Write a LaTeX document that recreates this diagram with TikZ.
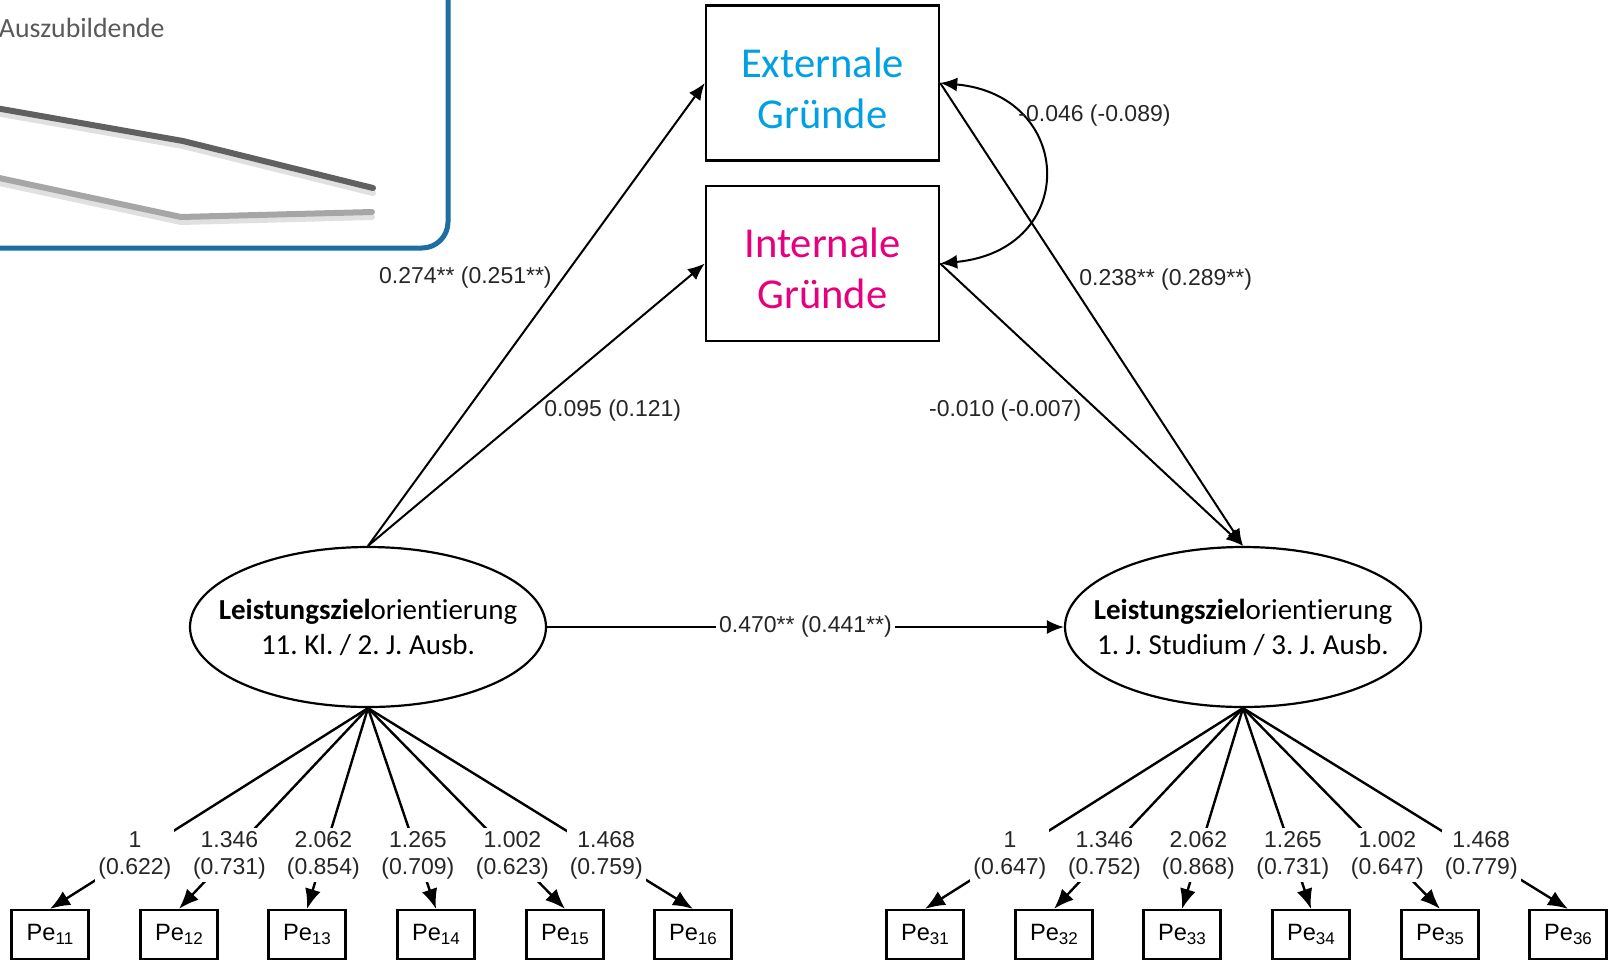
\documentclass[tikz,border=0pt]{standalone}
\usepackage{fontspec}
\setmainfont{Carlito}[Ligatures=NoCommon]
\newfontfamily\arialf{Liberation Sans}
\usetikzlibrary{arrows.meta,shapes.geometric}
\definecolor{framecol}{RGB}{28,110,165}
\definecolor{extblue}{RGB}{0,160,227}
\definecolor{intmag}{RGB}{230,0,126}
\definecolor{darkline}{RGB}{96,96,96}
\definecolor{lightline}{RGB}{166,166,166}
\definecolor{ausgray}{RGB}{89,89,89}
\newcommand\subx[1]{\raisebox{-0.35ex}{\fontsize{8.5}{9}\selectfont #1}}
\frenchspacing
\begin{document}
\begin{tikzpicture}[x=0.5pt,y=-0.5pt,
  reason/.style={draw=black, line width=1.2pt, minimum width=116.5pt, minimum height=77.5pt, inner sep=0pt},
  rtext/.style={inner sep=0pt, align=center, font=\fontsize{21.3}{25.5}\selectfont},
  latent/.style={draw=black, ellipse, line width=1.1pt, minimum width=178pt, minimum height=80pt, inner sep=0pt, align=center, font=\fontsize{14.5}{17.5}\selectfont},
  ind/.style={draw=black, line width=1.1pt, minimum width=38.5pt, minimum height=24.5pt, inner sep=0pt, font=\arialf\fontsize{11.8}{13}\selectfont},
  pathar/.style={line width=1pt, -{Latex[length=8.5pt,width=7pt]}},
  loadar/.style={line width=1.2pt, -{Latex[length=10pt,width=8pt]}},
  coef/.style={font=\arialf\fontsize{11.5}{13.5}\selectfont, inner sep=0pt, text=black!85},
  lload/.style={coef, fill=white, align=center, inner sep=1.5pt},
  trend/.style={line width=3pt, line cap=round, line join=round}
]
\useasboundingbox (0,0) rectangle (1610,960);

% top-left panel
\draw[framecol, line width=2.5pt, rounded corners=13pt] (-60,-60) rectangle (448,248);
\node[anchor=east, text=ausgray, inner sep=0pt, font=\fontsize{13.9}{16}\selectfont] (aus) at (165,28) {Auszubildende};
\draw[trend, black, opacity=0.12] (-10,112) -- (183,146) -- (373,193);
\draw[trend, black, opacity=0.12] (-10,181) -- (181,222) -- (372,217);
\draw[trend, darkline] (-10,107) -- (183,141) -- (373,188);
\draw[trend, lightline] (-10,176) -- (181,217) -- (372,212);

% reasons
\node[reason] (ext) at (822.5,83) {};
\node[rtext, text=extblue] (extt) at ([yshift=-2.5pt]ext.center) {Externale\\Gründe};
\node[reason] (int) at (822.5,263.5) {};
\node[rtext, text=intmag] (intt) at ([yshift=-2.5pt]int.center) {Internale\\Gründe};

% latent variables
\node[latent] (L) at (368,627) {\makebox[0pt]{\textbf{Leistungsziel}orientierung}\\\makebox[0pt]{11. Kl. / 2. J. Ausb.}};
\node[latent] (R) at (1243,627) {\makebox[0pt]{\textbf{Leistungsziel}orientierung}\\\makebox[0pt]{1. J. Studium / 3. J. Ausb.}};

% structural paths
\draw[pathar] (L.north) -- node[coef, pos=0.584, anchor=east, xshift=-6pt, yshift=-1pt] (c1) {0.274** (0.251**)} (ext.west);
\draw[pathar] (L.north) -- node[coef, pos=0.488, anchor=west, xshift=5.5pt, yshift=-1pt] (c2) {0.095 (0.121)} (int.west);
\draw[pathar] (ext.east) -- node[coef, pos=0.42, anchor=west, xshift=5.5pt, yshift=-1pt] (c3) {0.238** (0.289**)} (R.north);
\draw[pathar] (int.east) -- node[coef, pos=0.512, anchor=east, xshift=-6.5pt, yshift=-1pt] (c4) {-0.010 (-0.007)} (R.north);
\draw[line width=1pt, {Latex[length=8.5pt,width=7pt]}-{Latex[length=8.5pt,width=7pt]}] (ext.east) .. controls (1075,95) and (1080,250) .. (int.east);
\node[coef, anchor=west] (c5) at (1018,116) {-0.046 (-0.089)};
\draw[pathar] (L.east) -- node[lload, pos=0.5] (c6) {0.470** (0.441**)} (R.west);

% indicators left
\foreach \i/\x/\a/\b in {1/50/1/0.622, 2/179/1.346/0.731, 3/307/2.062/0.854, 4/436/1.265/0.709, 5/565/1.002/0.623, 6/693/1.468/0.759} {
  \node[ind] (p1\i) at (\x,934.5) {Pe\subx{1\i}};
  \draw[loadar] (L.south) -- node[lload, pos=0.733] (la1\i) {\a\\(\b)} (p1\i.north);
}
% indicators right
\foreach \i/\x/\a/\b in {1/925/1/0.647, 2/1054/1.346/0.752, 3/1182/2.062/0.868, 4/1311/1.265/0.731, 5/1440/1.002/0.647, 6/1568/1.468/0.779} {
  \node[ind] (p3\i) at (\x,934.5) {Pe\subx{3\i}};
  \draw[loadar] (R.south) -- node[lload, pos=0.733] (la3\i) {\a\\(\b)} (p3\i.north);
}
\end{tikzpicture}
\end{document}
